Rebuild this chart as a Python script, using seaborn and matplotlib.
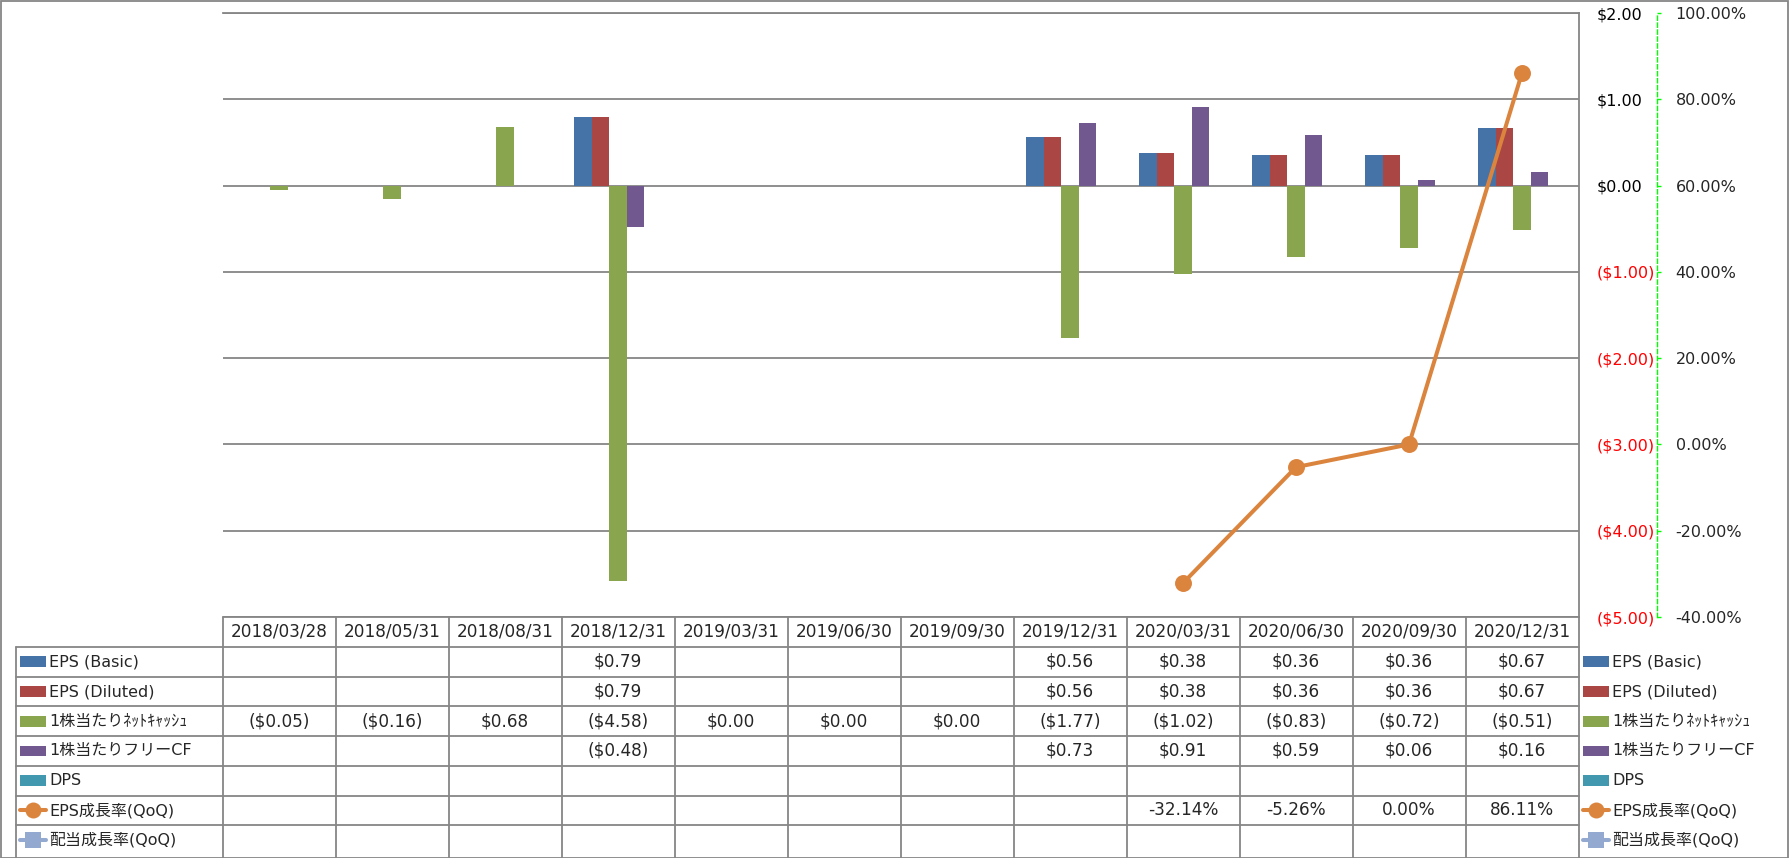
import numpy as np
import pandas as pd
import matplotlib
matplotlib.use("Agg")
import matplotlib.pyplot as plt
import seaborn as sns
from matplotlib.lines import Line2D
from matplotlib.patches import Rectangle

# --- data ---
nan = np.nan
dates = ['2018/03/28', '2018/05/31', '2018/08/31', '2018/12/31', '2019/03/31', '2019/06/30',
         '2019/09/30', '2019/12/31', '2020/03/31', '2020/06/30', '2020/09/30', '2020/12/31']
eps_basic = [nan, nan, nan, 0.79, nan, nan, nan, 0.56, 0.38, 0.36, 0.36, 0.67]
eps_diluted = [nan, nan, nan, 0.79, nan, nan, nan, 0.56, 0.38, 0.36, 0.36, 0.67]
net_cash = [-0.05, -0.16, 0.68, -4.58, 0.00, 0.00, 0.00, -1.77, -1.02, -0.83, -0.72, -0.51]
free_cf = [nan, nan, nan, -0.48, nan, nan, nan, 0.73, 0.91, 0.59, 0.06, 0.16]
dps = [nan, nan, nan, nan, nan, nan, nan, nan, nan, nan, nan, nan]
eps_growth = [nan, nan, nan, nan, nan, nan, nan, nan, -32.14, -5.26, 0.00, 86.11]
div_growth = [nan, nan, nan, nan, nan, nan, nan, nan, nan, nan, nan, nan]

bar_names = ['EPS (Basic)', 'EPS (Diluted)', '1株当たりﾈｯﾄｷｬｯｼｭ', '1株当たりフリーCF', 'DPS']
line_names = ['EPS成長率(QoQ)', '配当成長率(QoQ)']
bar_colors = ['#4572A7', '#AA4643', '#89A54E', '#71588F', '#4198AF']
line_colors = ['#DB843D', '#93A9CF']

usd_ticks = [-5, -4, -3, -2, -1, 0, 1, 2]
pct_ticks = [-40, -20, 0, 20, 40, 60, 80, 100]

# --- style ---
sns.set_style('white')
plt.rcParams['font.family'] = ['DejaVu Sans', 'Noto Sans CJK JP']
FS = 11.5
FS_CELL = 12.2
GRID = '#868686'

W, H = 1789, 858
fig = plt.figure(figsize=(W / 100, H / 100), dpi=100)


def fx(px):
    return px / W


def fy(py):
    return 1 - py / H


x_left, x_right = 222.5, 1578.5
y_top, y_bot = 13, 617
ax = fig.add_axes([fx(x_left), fy(y_bot), fx(x_right) - fx(x_left), fy(y_top) - fy(y_bot)])

df = pd.DataFrame({
    'date': np.tile(dates, len(bar_names)),
    'series': np.repeat(bar_names, len(dates)),
    'value': np.concatenate([eps_basic, eps_diluted, net_cash, free_cf, dps]),
}).dropna()

sns.barplot(data=df, x='date', y='value', hue='series', order=dates, hue_order=bar_names,
            palette=dict(zip(bar_names, bar_colors)), width=0.775, saturation=1,
            errorbar=None, linewidth=0, legend=False, ax=ax)

# --- secondary axis (growth rate) ---
ax2 = ax.twinx()
ax2.plot(np.arange(len(dates)), eps_growth, color=line_colors[0], lw=2.9,
         marker='o', markersize=12.2, markeredgewidth=0, solid_capstyle='round')
ax2.set_xlim(-0.5, 11.5)
ax2.set_ylim(-40, 100)
ax2.set_yticks(pct_ticks)
ax2.set_yticklabels(['%.2f%%' % v for v in pct_ticks])
ax2.tick_params(axis='y', length=2.9, width=1, color='#00FF00', pad=10.8, labelsize=FS)
for lab, v in zip(ax2.get_yticklabels(), pct_ticks):
    lab.set_color('#FF0000' if v < 0 else 'black')
for s in ['left', 'top', 'bottom']:
    ax2.spines[s].set_visible(False)
ax2.spines['right'].set_position(('outward', 56.2))
ax2.spines['right'].set_color('#00FF00')
ax2.spines['right'].set_linestyle((0, (3, 2)))
ax2.spines['right'].set_linewidth(1)
ax2.grid(False)

# --- primary axis (USD), labels shown on the right ---
ax.set_xlim(-0.5, 11.5)
ax.set_ylim(-5, 2)
ax.set_xlabel('')
ax.set_ylabel('')
ax.set_axisbelow(True)
ax.yaxis.grid(True, color=GRID, lw=1.3)
ax.xaxis.grid(False)
ax.tick_params(axis='x', bottom=False, labelbottom=False)
ax.yaxis.tick_right()
ax.set_yticks(usd_ticks)
ax.set_yticklabels([('($%.2f)' % -v) if v < 0 else ('$%.2f' % v) for v in usd_ticks])
ax.tick_params(axis='y', left=False, labelleft=False, right=True, labelright=True,
               length=0, pad=13.2, labelsize=FS)
for t, v in zip(ax.yaxis.get_major_ticks(), usd_ticks):
    t.label2.set_color('#FF0000' if v < 0 else 'black')
for s in ['left', 'bottom']:
    ax.spines[s].set_visible(False)
for s in ['top', 'right']:
    ax.spines[s].set_color(GRID)
    ax.spines[s].set_linewidth(1.3)

# --- data table ---
col_w = (x_right - x_left) / len(dates)
head_top, head_bot = 617, 647
row_h = 29.7
n_rows = len(bar_names) + len(line_names)
leg_left = 16
row_edges = [head_bot + i * row_h for i in range(n_rows + 1)]


def hline(x0, x1, y):
    fig.add_artist(Line2D([fx(x0), fx(x1)], [fy(y), fy(y)], color=GRID, lw=1.3))


def vline(x, y0, y1):
    fig.add_artist(Line2D([fx(x), fx(x)], [fy(y0), fy(y1)], color=GRID, lw=1.3))


hline(x_left, x_right, head_top)
for y in row_edges[:-1]:
    hline(leg_left, x_right, y)
for i in range(len(dates) + 1):
    vline(x_left + i * col_w, head_top, H)
vline(leg_left, head_bot, H)

for i, d in enumerate(dates):
    fig.text(fx(x_left + (i + 0.5) * col_w), fy((head_top + head_bot) / 2), d,
             ha='center', va='center', fontsize=FS_CELL)


def fmt_usd(v):
    if np.isnan(v):
        return ''
    return ('($%.2f)' % -v) if v < 0 else ('$%.2f' % abs(v))


def fmt_pct(v):
    if np.isnan(v):
        return ''
    return '%.2f%%' % (v if v != 0 else 0.0)


table_rows = [eps_basic, eps_diluted, net_cash, free_cf, dps, eps_growth, div_growth]
for r, vals in enumerate(table_rows):
    yc = row_edges[r] + row_h / 2
    fmt = fmt_usd if r < len(bar_names) else fmt_pct
    for i, v in enumerate(vals):
        fig.text(fx(x_left + (i + 0.5) * col_w), fy(yc), fmt(v),
                 ha='center', va='center', fontsize=FS_CELL)


# --- legend keys (in the table and on the right) ---
def legend_key(x0, r, label):
    yc = row_edges[r] + row_h / 2
    if r < len(bar_names):
        fig.add_artist(Rectangle((fx(x0), fy(yc + 5.3)), fx(26), 10.7 / H,
                                 color=bar_colors[r], lw=0))
    else:
        c = line_colors[r - len(bar_names)]
        mk = 'o' if r == len(bar_names) else 's'
        fig.add_artist(Line2D([fx(x0), fx(x0 + 26)], [fy(yc), fy(yc)], color=c, lw=2.9))
        fig.add_artist(Line2D([fx(x0 + 13)], [fy(yc)], color=c, marker=mk,
                              markersize=11.5, markeredgewidth=0))
    fig.text(fx(x0 + 29), fy(yc), label, ha='left', va='center', fontsize=FS)


all_names = bar_names + line_names
for r, name in enumerate(all_names):
    legend_key(20, r, name)
    legend_key(1583, r, name)

# outer border
fig.add_artist(Rectangle((0.5 / W, 0.5 / H), 1 - 1.5 / W, 1 - 1.5 / H,
                         fill=False, edgecolor=GRID, lw=1.3))

fig.savefig('out.png', dpi=100)
